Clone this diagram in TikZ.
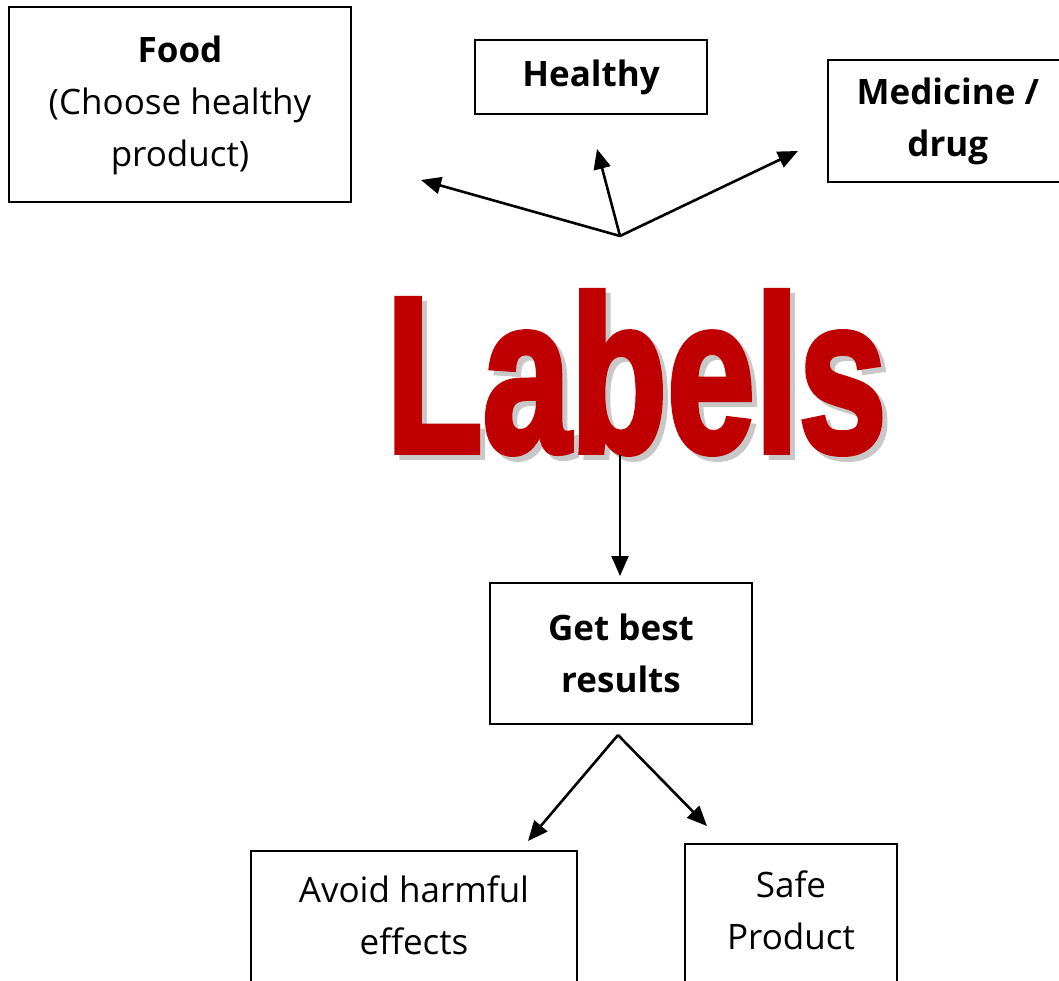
\documentclass[tikz,border=0pt]{standalone}
\usepackage{fontspec}
\setmainfont{Open Sans}
\newfontfamily\bigfont[FakeBold=3]{Liberation Sans Bold}
\usetikzlibrary{arrows.meta}
\definecolor{lblred}{HTML}{C00000}
\definecolor{lblshadow}{HTML}{C8C8C8}
\tikzset{
  box/.style={draw=black, line width=1.6pt, rectangle, inner sep=0pt, align=center,
    font=\fontsize{35}{52}\selectfont},
  conn/.style={line width=2.6pt, -{Triangle[length=20pt, width=17pt]}},
}
\newcommand{\labelword}{\resizebox{500pt}{160pt}{\bigfont Labels}}
\begin{document}
\begin{tikzpicture}[x=1pt, y=-1pt]
\useasboundingbox (0,0) rectangle (1059,980);
% boxes
\node[box, minimum width=342pt, minimum height=195pt] (food) at (180,104.5)
  {\raisebox{6pt}{\begin{tabular}{@{}c@{}}\textbf{Food}\\(Choose healthy\\product)\end{tabular}}};
\node[box, minimum width=232pt, minimum height=74pt] (healthy) at (591,77)
  {\textbf{Healthy}};
\node[box, minimum width=240pt, minimum height=122pt, anchor=west] (med) at (827,121)
  {\textbf{Medicine /}\\\textbf{drug}};
\node[box, minimum width=262pt, minimum height=141pt] (best) at (621,653.5)
  {\textbf{Get best}\\\textbf{results}};
\node[box, minimum width=326pt, minimum height=180pt, anchor=north] (avoid) at (414,850)
  {Avoid harmful\\effects\\\mbox{}};
\node[box, minimum width=212pt, minimum height=184pt, anchor=north] (safe) at (791,843)
  {Safe\\Product\\\mbox{}};
% title with shadow
\node[inner sep=0pt, anchor=north west] (title) at (386,291)
  {\rlap{\hspace*{5pt}\raisebox{-5pt}{\textcolor{lblshadow}{\labelword}}}\textcolor{lblred}{\labelword}};
% connector points
\coordinate (fan) at (620,236);
\coordinate (tFood) at (421,180);
\coordinate (tHealthy) at (597,149);
\coordinate (tMed) at (798,151);
\coordinate (lblBottom) at (620,455);
\coordinate (tBest) at (620,576);
\coordinate (split) at (618,735);
\coordinate (tAvoid) at (528,841);
\coordinate (tSafe) at (707,826);
\draw[conn] (fan) -- (tFood);
\draw[conn] (fan) -- (tHealthy);
\draw[conn] (fan) -- (tMed);
\draw[conn, line width=2pt] (lblBottom) -- (tBest);
\draw[conn] (split) -- (tAvoid);
\draw[conn] (split) -- (tSafe);
\end{tikzpicture}
\end{document}
